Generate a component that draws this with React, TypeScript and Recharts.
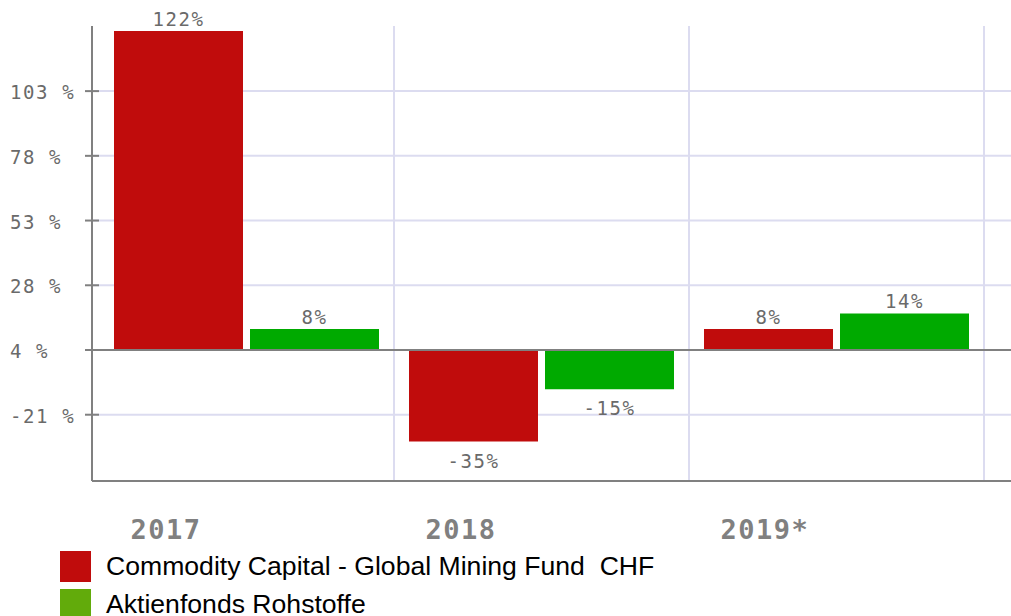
import { BarChart, Bar, XAxis, YAxis, CartesianGrid, ReferenceLine, LabelList } from "recharts";

const categories = ["2017", "2018", "2019*"];
const fundValues = [122, -35, 8];
const indexValues = [8, -15, 14];
const yTicks = [-24.75, 0, 24.75, 49.5, 74.25, 99];
const yTickLabels = ["-21 %", "4 %", "28 %", "53 %", "78 %", "103 %"];

const seriesNames = ["Commodity Capital - Global Mining Fund  CHF", "Aktienfonds Rohstoffe"];
const barColors = ["#c00c0c", "#00aa00"];
const legendColors = ["#c00c0c", "#62ab0b"];

const data = categories.map((c, i) => ({ year: c, fund: fundValues[i], index: indexValues[i] }));

const MONO = "'DejaVu Sans Mono', monospace";
const GRID = "#dcdcf0";

function YTick(props: any) {
    const { x, y, payload } = props;
    const i = yTicks.indexOf(payload.value);
    return (
        <g>
            <line x1={x} x2={x + 14} y1={y} y2={y} stroke="#808080" strokeWidth={2} />
            <text x={x - 75} y={y + 8} textAnchor="start" fontFamily={MONO} fontSize={19} letterSpacing={1.6} fill="#6a6a6a">
                {i >= 0 ? yTickLabels[i] : ""}
            </text>
        </g>
    );
}

function XTick(props: any) {
    const { x, y, payload } = props;
    return (
        <text x={x - 116} y={y + 56} textAnchor="start" fontFamily={MONO} fontWeight="bold" fontSize={27} letterSpacing={1.5} fill="#808080">
            {payload.value}
        </text>
    );
}

function ValueLabel(props: any) {
    const { x, y, width, height, value } = props;
    const top = Math.min(y, y + height);
    const bottom = Math.max(y, y + height);
    const ty = value < 0 ? bottom + 26 : top - 5;
    return (
        <text x={x + width / 2} y={ty} textAnchor="middle" fontFamily={MONO} fontSize={19} letterSpacing={1.6} fill="#6a6a6a">
            {`${value}%`}
        </text>
    );
}

export default function App() {
    return (
        <div style={{ position: "absolute", left: 0, top: 0, width: 1011, height: 616, background: "#fff", overflow: "hidden" }}>
            <BarChart width={1011} height={616} data={data} margin={{ top: 26, right: 0, bottom: 0, left: 0 }} barSize={129} barGap={7}>
                <CartesianGrid vertical={false} syncWithTicks stroke={GRID} strokeWidth={2} />
                <XAxis
                    dataKey="year"
                    height={135}
                    padding={{ left: 7, right: 27 }}
                    axisLine={{ stroke: "#808080", strokeWidth: 2 }}
                    tickLine={false}
                    tickSize={0}
                    tick={<XTick />}
                    interval={0}
                />
                <YAxis
                    width={92}
                    domain={[-50.1, 123.9]}
                    ticks={yTicks}
                    allowDataOverflow
                    axisLine={{ stroke: "#808080", strokeWidth: 2 }}
                    tickLine={false}
                    tickSize={7}
                    tickMargin={0}
                    tick={<YTick />}
                    interval={0}
                />
                {categories.map((c) => (
                    <ReferenceLine key={c} x={c} position="end" stroke={GRID} strokeWidth={2} />
                ))}
                <ReferenceLine y={0} stroke="#808080" strokeWidth={2} />
                <Bar dataKey="fund" name={seriesNames[0]} fill={barColors[0]} isAnimationActive={false}>
                    <LabelList dataKey="fund" content={<ValueLabel />} />
                </Bar>
                <Bar dataKey="index" name={seriesNames[1]} fill={barColors[1]} isAnimationActive={false}>
                    <LabelList dataKey="index" content={<ValueLabel />} />
                </Bar>
            </BarChart>
            <div style={{ position: "absolute", left: 60, top: 551, fontFamily: "'Liberation Sans', Arial, sans-serif", fontSize: 26.6, color: "#000" }}>
                {seriesNames.map((n, i) => (
                    <div key={n} style={{ display: "flex", alignItems: "flex-start", height: 38 }}>
                        <div style={{ width: 31, height: 31, background: legendColors[i], marginRight: 15 }} />
                        <div style={{ lineHeight: "31px", whiteSpace: "pre" }}>{n}</div>
                    </div>
                ))}
            </div>
        </div>
    );
}
